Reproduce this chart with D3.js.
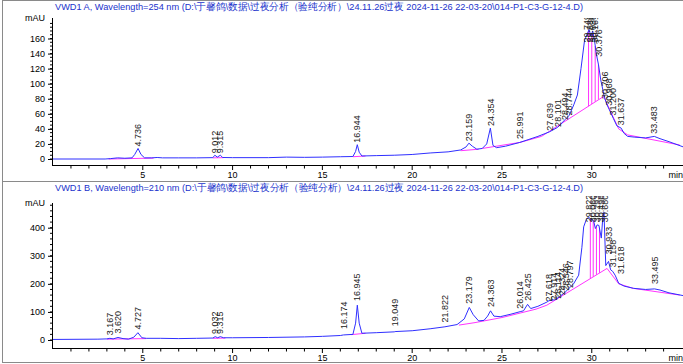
<!DOCTYPE html>
<html>
<head>
<meta charset="UTF-8">
<title>VWD1 chromatogram</title>
<script src="https://cdn.jsdelivr.net/npm/d3@7"></script>
<style>
  body { margin: 0; background: #fff; }
  svg { display: block; font-family: "Liberation Sans", Arial, sans-serif; }
</style>
</head>
<body>
<div id="chart"></div>
<script>
var w = 683, h = 364;

// ---- signal A, 254 nm ----
var titleA = "VWD1 A, Wavelength=254 nm (D:\\于馨鸽\\数据\\过夜分析（验纯分析）\\24.11.26过夜 2024-11-26 22-03-20\\014-P1-C3-G-12-4.D)";
var timeA = [0, 2.9, 3.2, 3.6, 4.0, 4.4, 4.55, 4.736, 4.9, 5.1, 5.5, 5.8, 6.1, 7, 8, 8.9, 9.012, 9.15, 9.315, 9.45, 10, 12, 13, 14, 15, 16, 16.7, 16.85, 16.944, 17.05, 17.2, 18, 19, 20, 21, 22, 22.7, 23.0, 23.159, 23.35, 23.6, 23.9, 24.15, 24.354, 24.5, 24.7, 25.2, 25.991, 26.5, 27.0, 27.639, 28.1, 28.5, 28.744, 29.0, 29.2, 29.4, 29.6, 29.749, 29.85, 29.95, 30.05, 30.15, 30.25, 30.376, 30.5, 30.706, 30.85, 30.968, 31.2, 31.4, 31.637, 31.8, 32.0, 32.4, 33.0, 33.483, 33.8, 34.3, 35.1];
var valA = [0, 0, 0.5, 1.5, 1, 1.5, 6, 14, 6, 1.5, 1.5, 2, 1.5, 1.5, 1.5, 1.8, 5, 2.5, 5, 2, 1.8, 1.8, 2.5, 2.2, 2.5, 3, 3.3, 10, 19, 9, 4, 4.5, 5, 6, 8, 9.5, 12, 16, 21, 17, 13, 14, 20, 41, 18, 15, 17, 22, 26, 30, 36, 42, 52, 58, 72, 85, 120, 158, 166, 172, 163, 170, 158, 140, 125, 105, 82, 72, 66, 54, 44, 41, 34, 30, 29, 28, 30, 27, 23, 16];
var baseA = [
  [[3.1, 0], [5.6, 1.2]],
  [[8.9, 1.5], [9.5, 1.8]],
  [[16.7, 3], [17.4, 4]],
  [[22.7, 11], [23.7, 13]],
  [[23.9, 14], [26.0, 22], [27.2, 30], [30.66, 83], [31.5, 40], [32.0, 32], [34.9, 18.6]]
];
var dropTimeA = [29.82, 30.0, 30.19, 30.37];
var dropTopA = [170, 166, 150, 126];
var dropBaseA = [70, 73, 76, 79];
var peakLabelA = ["4.736", "9.012", "9.315", "16.944", "23.159", "24.354", "25.991", "27.639", "28.101", "28.494", "28.744", "29.749", "29.886", "30.036", "30.161", "30.376", "30.706", "30.968", "31.200", "31.637", "33.483"];
var peakTimeA = [4.736, 9.012, 9.315, 16.944, 23.159, 24.354, 25.991, 27.639, 28.101, 28.494, 28.744, 29.749, 29.886, 30.036, 30.161, 30.376, 30.706, 30.968, 31.200, 31.637, 33.483];
var peakHeightA = [14, 5, 5, 19, 21, 41, 24, 35, 40, 49, 55, 152, 152, 152, 152, 133, 77, 68, 55, 42, 31];
var yTicksA = [0, 20, 40, 60, 80, 100, 120, 140, 160];

// ---- signal B, 210 nm ----
var titleB = "VWD1 B, Wavelength=210 nm (D:\\于馨鸽\\数据\\过夜分析（验纯分析）\\24.11.26过夜 2024-11-26 22-03-20\\014-P1-C3-G-12-4.D)";
var timeB = [0, 2.5, 3.0, 3.167, 3.35, 3.62, 3.9, 4.2, 4.5, 4.727, 4.95, 5.2, 6, 7, 8, 8.9, 9.032, 9.17, 9.315, 9.5, 10, 12, 14, 15, 16, 16.174, 16.7, 16.85, 16.945, 17.05, 17.2, 18, 19, 19.049, 20, 21, 21.822, 22.5, 22.9, 23.179, 23.4, 23.7, 24.0, 24.2, 24.363, 24.55, 24.9, 25.5, 26.014, 26.2, 26.425, 26.6, 27.0, 27.5, 27.618, 27.914, 28.114, 28.324, 28.546, 28.987, 29.27, 29.45, 29.55, 29.7, 29.822, 29.96, 30.1, 30.2, 30.3, 30.4, 30.53, 30.62, 30.68, 30.78, 30.933, 31.05, 31.158, 31.3, 31.5, 31.618, 31.8, 32.33, 33.0, 33.495, 33.8, 34.3, 35.1];
var valB = [2, 3, 4, 6, 4, 9, 5, 3, 10, 26, 8, 6, 6, 5, 6, 7, 12, 8, 12, 8, 8, 9, 11, 13, 16, 18, 20, 60, 124, 60, 24, 26, 29, 30, 33, 40, 47, 55, 75, 116, 90, 68, 70, 85, 104, 85, 83, 92, 101, 104, 127, 112, 120, 135, 140, 143, 150, 160, 172, 200, 231, 330, 403, 430, 437, 430, 425, 397, 410, 408, 363, 440, 455, 265, 280, 250, 245, 231, 202, 198, 192, 184, 180, 182, 178, 168, 158];
var baseB = [
  [[3.0, 3], [5.2, 5]],
  [[8.9, 6], [9.6, 7]],
  [[16.6, 19], [17.4, 24]],
  [[22.6, 53], [23.5, 62], [25.0, 80], [26.9, 110], [27.5, 124], [30.85, 255], [31.5, 200], [32.3, 184], [34.9, 160]]
];
var dropTimeB = [29.92, 30.08, 30.26, 30.43];
var dropTopB = [432, 426, 404, 397];
var dropBaseB = [219, 225, 232, 239];
var peakLabelB = ["3.167", "3.620", "4.727", "9.032", "9.315", "16.174", "16.945", "19.049", "21.822", "23.179", "24.363", "26.014", "26.425", "27.618", "27.914", "28.114", "28.324", "28.546", "28.797", "29.822", "30.060", "30.293", "30.496", "30.680", "30.933", "31.158", "31.618", "33.495"];
var peakTimeB = [3.167, 3.620, 4.727, 9.032, 9.315, 16.174, 16.945, 19.049, 21.822, 23.179, 24.363, 26.014, 26.425, 27.618, 27.914, 28.114, 28.324, 28.546, 28.797, 29.86, 30.08, 30.31, 30.51, 30.73, 30.933, 31.158, 31.618, 33.495];
var peakHeightB = [10, 16, 30, 14, 14, 32, 132, 42, 55, 122, 110, 104, 133, 130, 134, 140, 152, 168, 178, 412, 412, 412, 412, 412, 298, 252, 228, 192];
var yTicksB = [0, 100, 200, 300, 400];

var svg = d3.select("#chart").append("svg")
  .attr("width", w)
  .attr("height", h);

var x = d3.scaleLinear().domain([0, 35.08]).range([53, 683]);
var xTicks = [5, 10, 15, 20, 25, 30];

function drawPanel(p) {
  var g = svg.append("g");
  var y = d3.scaleLinear().domain(p.ydom).range(p.yrange);

  // frame
  g.append("rect")
    .attr("x", 2.5).attr("y", p.top + 0.5)
    .attr("width", 690).attr("height", p.height)
    .attr("fill", "none").attr("stroke", "#8a8a8a");

  // title
  g.append("text")
    .attr("x", 55).attr("y", p.top + 10)
    .attr("font-size", "9.5px")
    .attr("fill", "#2233cc")
    .attr("textLength", 528)
    .attr("lengthAdjust", "spacingAndGlyphs")
    .text(p.title);

  // y axis
  var yAxis = d3.axisLeft(y).tickValues(p.yticks).tickSize(4).tickPadding(3);
  var ya = g.append("g").attr("transform", "translate(52,0)").call(yAxis);
  ya.select(".domain").remove();
  ya.selectAll("text").attr("font-size", "9px").attr("fill", "#000").attr("font-family", "Liberation Sans, Arial, sans-serif");
  ya.selectAll("line").attr("stroke", "#000");
  var minor = d3.range(0, p.ymax + 0.001, p.minor);
  g.selectAll(null).data(minor).enter().append("line")
    .attr("x1", 50).attr("x2", 52)
    .attr("y1", function(d) { return y(d); })
    .attr("y2", function(d) { return y(d); })
    .attr("stroke", "#000");
  g.append("line")
    .attr("x1", 52.5).attr("x2", 52.5)
    .attr("y1", p.axisTop).attr("y2", p.axisY)
    .attr("stroke", "#000");
  g.append("text")
    .attr("x", 45).attr("y", p.axisTop + 1)
    .attr("text-anchor", "end").attr("dominant-baseline", "middle")
    .attr("font-size", "9px").text("mAU");

  // x axis
  g.append("line")
    .attr("x1", 52).attr("x2", 683)
    .attr("y1", p.axisY + 0.5).attr("y2", p.axisY + 0.5)
    .attr("stroke", "#000");
  g.selectAll(null).data(d3.range(1, 35)).enter().append("line")
    .attr("x1", function(d) { return x(d); })
    .attr("x2", function(d) { return x(d); })
    .attr("y1", p.axisY).attr("y2", function(d) { return p.axisY + (d % 5 === 0 ? 5 : 3.5); })
    .attr("stroke", "#000");
  g.selectAll(null).data(xTicks).enter().append("text")
    .attr("x", function(d) { return x(d); })
    .attr("y", p.axisY + 11)
    .attr("text-anchor", "middle").attr("dominant-baseline", "middle")
    .attr("font-size", "9px")
    .text(function(d) { return d; });
  g.append("text")
    .attr("x", 683).attr("y", p.axisY + 11)
    .attr("text-anchor", "end").attr("dominant-baseline", "middle")
    .attr("font-size", "9px").text("min");

  // plot area clip
  var cid = "clip" + p.id;
  svg.append("clipPath").attr("id", cid).append("rect")
    .attr("x", 52).attr("y", p.clipTop)
    .attr("width", 631).attr("height", p.axisY - p.clipTop);
  var pg = g.append("g").attr("clip-path", "url(#" + cid + ")");

  var line = d3.line().x(function(d) { return x(d[0]); }).y(function(d) { return y(d[1]); });

  // integration baselines
  pg.selectAll(null).data(p.base).enter().append("path")
    .attr("d", line)
    .attr("fill", "none").attr("stroke", "#ff33ff").attr("stroke-width", 1);
  pg.selectAll(null).data(p.dropT).enter().append("line")
    .attr("x1", function(d) { return x(d); })
    .attr("x2", function(d) { return x(d); })
    .attr("y1", function(d, i) { return y(p.dropTop[i]); })
    .attr("y2", function(d, i) { return y(p.dropBase[i]); })
    .attr("stroke", "#ff33ff");

  // signal
  pg.append("path")
    .datum(d3.zip(p.t, p.v))
    .attr("d", line)
    .attr("fill", "none").attr("stroke", "#2f2fff").attr("stroke-width", 1);

  // peak labels
  pg.selectAll(null).data(p.labels).enter().append("text")
    .attr("transform", function(d, i) {
      return "translate(" + x(p.peakT[i]) + "," + (y(p.peakH[i]) - 2) + ") rotate(-90)";
    })
    .attr("dy", "0.35em")
    .attr("font-size", "9px")
    .attr("fill", "#222")
    .text(function(d) { return d; });
}

drawPanel({
  id: "A", top: 0, height: 181, title: titleA,
  ydom: [0, 160], yrange: [159, 38.5], yticks: yTicksA, ymax: 180, minor: 5,
  axisTop: 18, axisY: 165, clipTop: 18,
  t: timeA, v: valA, base: baseA,
  dropT: dropTimeA, dropTop: dropTopA, dropBase: dropBaseA,
  labels: peakLabelA, peakT: peakTimeA, peakH: peakHeightA
});

drawPanel({
  id: "B", top: 181, height: 181, title: titleB,
  ydom: [0, 400], yrange: [340, 227.7], yticks: yTicksB, ymax: 480, minor: 20,
  axisTop: 203, axisY: 348, clipTop: 196,
  t: timeB, v: valB, base: baseB,
  dropT: dropTimeB, dropTop: dropTopB, dropBase: dropBaseB,
  labels: peakLabelB, peakT: peakTimeB, peakH: peakHeightB
});
</script>
</body>
</html>
